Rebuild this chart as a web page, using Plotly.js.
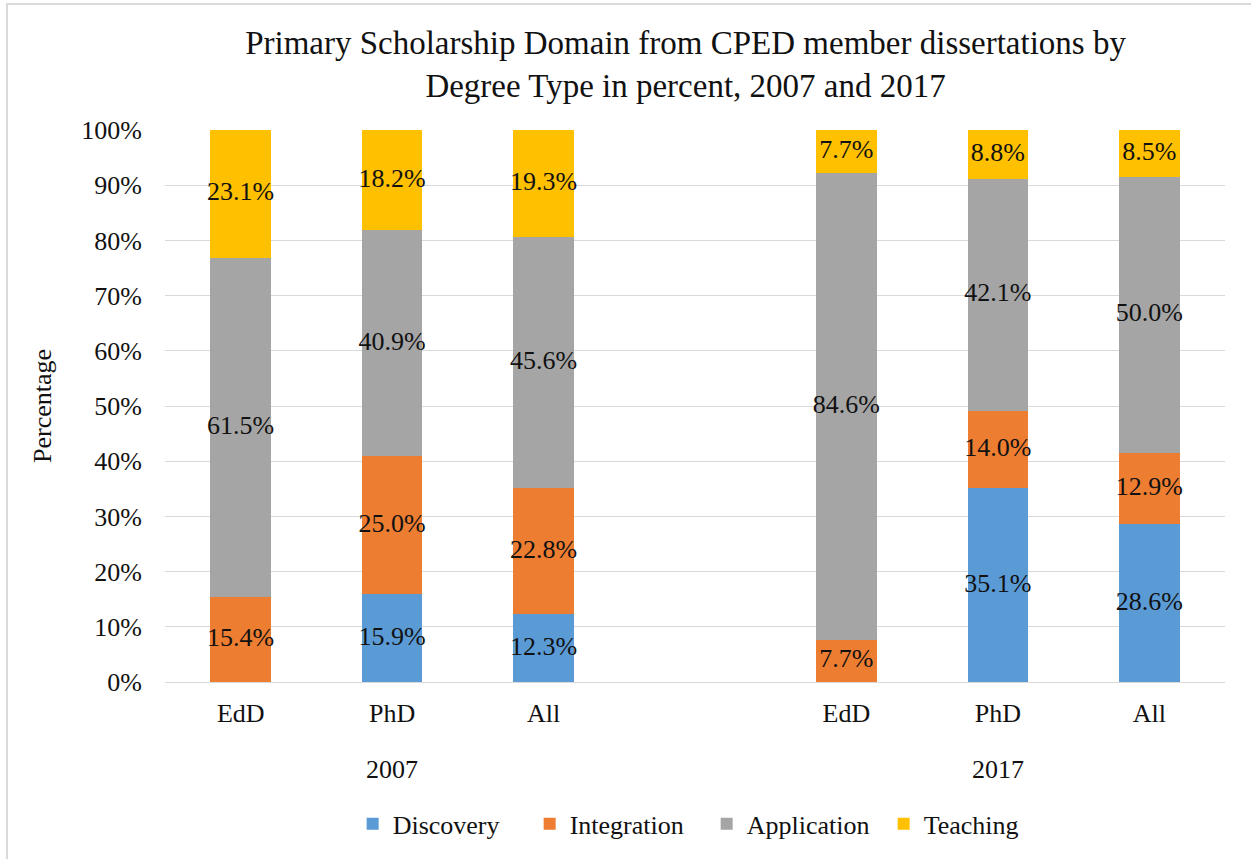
<!DOCTYPE html>
<html>
<head>
<meta charset="utf-8">
<script src="https://cdn.plot.ly/plotly-3.0.1.min.js"></script>
<style>
  html, body { margin: 0; padding: 0; background: #fff; }
  #wrap { position: relative; width: 1251px; height: 859px; }
  #frame { position: absolute; left: 6px; top: 3px; right: 0; bottom: 0;
           border-top: 2px solid #D9D9D9; border-left: 2px solid #D9D9D9; pointer-events: none; }
  #chart { position: absolute; left: 0; top: 0; width: 1251px; height: 859px; }
</style>
</head>
<body>
<div id="wrap">
  <div id="chart"></div>
  <div id="frame"></div>
</div>
<script>
// ---- data ----
const categoryKeys = ['2007 EdD', '2007 PhD', '2007 All', 'gap', '2017 EdD', '2017 PhD', '2017 All'];
const degreeLabels = ['EdD', 'PhD', 'All', '', 'EdD', 'PhD', 'All'];
const years = ['2007', '2017'];
const yearCenterKeys = ['2007 PhD', '2017 PhD'];
const seriesNames = ['Discovery', 'Integration', 'Application', 'Teaching'];
const discovery   = [0,    15.9, 12.3, null, 0,    35.1, 28.6];
const integration = [15.4, 25.0, 22.8, null, 7.7,  14.0, 12.9];
const application = [61.5, 40.9, 45.6, null, 84.6, 42.1, 50.0];
const teaching    = [23.1, 18.2, 19.3, null, 7.7,  8.8,  8.5];
const colors = ['#5B9BD5', '#ED7D31', '#A5A5A5', '#FFC000'];

const seriesValues = [discovery, integration, application, teaching];
const FONT = '"Liberation Serif", "Times New Roman", serif';
const TXT = '#111';
const FS = 26;

const traces = [];
seriesValues.forEach((vals, i) => {
  traces.push({
    type: 'bar', name: seriesNames[i], x: categoryKeys, y: vals,
    marker: { color: colors[i], line: { width: 0 } },
    hoverinfo: 'x+y+name'
  });
});

// label trace: midpoints of each stacked segment, computed from the data
const lx = [], ly = [], lt = [];
categoryKeys.forEach((k, j) => {
  let base = 0;
  seriesValues.forEach(vals => {
    const v = vals[j];
    if (v !== null && v > 0) {
      lx.push(k); ly.push(base + v / 2); lt.push(v.toFixed(1) + '%');
    }
    if (v !== null) base += v;
  });
});
traces.push({
  type: 'scatter', mode: 'text', x: lx, y: ly, text: lt,
  textposition: 'middle center',
  textfont: { family: FONT, size: FS, color: TXT },
  showlegend: false, hoverinfo: 'skip', cliponaxis: false
});

const annotations = years.map((yr, i) => ({
  text: yr, x: yearCenterKeys[i], xref: 'x', y: -0.158, yref: 'paper',
  yanchor: 'middle', xanchor: 'center', showarrow: false,
  font: { family: FONT, size: FS, color: TXT }
}));

const layout = {
  width: 1251, height: 859,
  margin: { l: 165, r: 26, t: 130, b: 174 },
  paper_bgcolor: '#fff', plot_bgcolor: '#fff',
  barmode: 'stack', bargap: 0.6,
  font: { family: FONT, size: FS, color: TXT },
  title: {
    text: 'Primary Scholarship Domain from CPED member dissertations by<br>Degree Type in percent, 2007 and 2017',
    font: { family: FONT, size: 33, color: TXT },
    x: 0.548, xanchor: 'center', y: 0.937, yanchor: 'top'
  },
  xaxis: {
    type: 'category', categoryorder: 'array', categoryarray: categoryKeys,
    tickvals: categoryKeys, ticktext: degreeLabels,
    showgrid: false, zeroline: false, showline: false,
    ticks: '', ticklabelstandoff: 13,
    tickfont: { family: FONT, size: FS, color: TXT }
  },
  yaxis: {
    range: [0, 100], dtick: 10, ticksuffix: '%',
    showgrid: true, gridcolor: '#D9D9D9', gridwidth: 1,
    zeroline: true, zerolinecolor: '#D9D9D9', zerolinewidth: 1,
    showline: false, ticks: '', ticklabelstandoff: 22,
    tickfont: { family: FONT, size: FS, color: TXT },
    title: { text: 'Percentage', standoff: 22, font: { family: FONT, size: FS, color: TXT } },
    automargin: false, fixedrange: true
  },
  legend: {
    orientation: 'h', x: 0.511, xanchor: 'center', y: -0.257, yanchor: 'middle',
    font: { family: FONT, size: FS, color: TXT },
    itemwidth: 30, traceorder: 'normal',
    entrywidth: 132, entrywidthmode: 'pixels'
  },
  annotations: annotations,
  showlegend: true
};

Plotly.newPlot('chart', traces, layout, { displayModeBar: false, staticPlot: true });
</script>
</body>
</html>
